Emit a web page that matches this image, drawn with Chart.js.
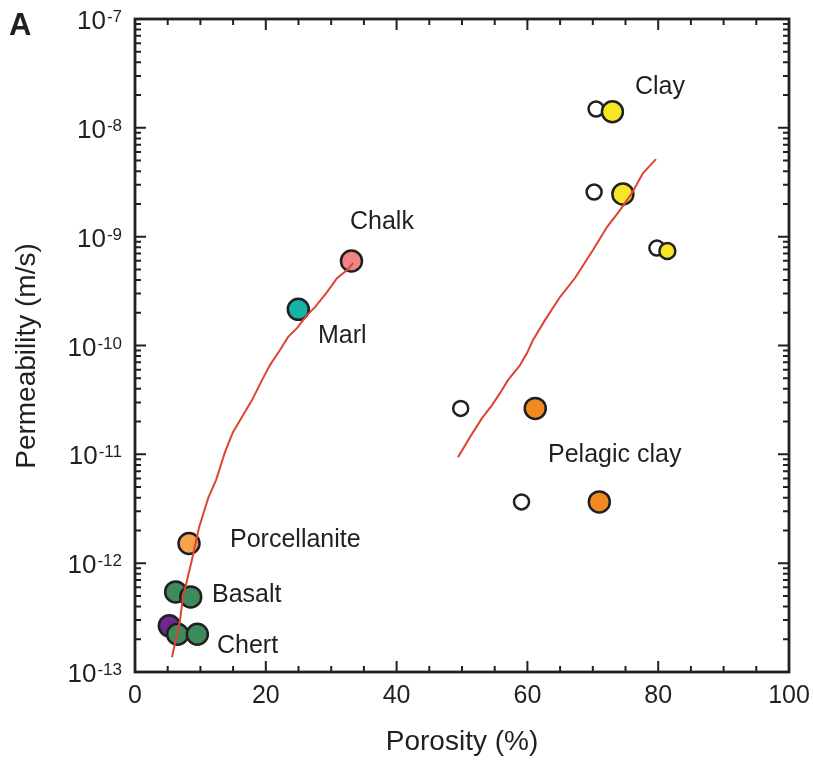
<!DOCTYPE html>
<html>
<head>
<meta charset="utf-8">
<script src="https://cdn.jsdelivr.net/npm/chart.js@4.4.1/dist/chart.umd.min.js"></script>
<style>
  html, body { margin: 0; padding: 0; background: #fff; }
  canvas { display: block; }
</style>
</head>
<body>
<canvas id="chart" width="813" height="761"></canvas>
<script>
// Datos (porosidad en %, permeabilidad como exponente log10 en m/s)
const xTicks = [0, 20, 40, 60, 80, 100];
const yTickExponents = [-7, -8, -9, -10, -11, -12, -13];

// Curvas del modelo (rojo)
const leftCurvePorosity = [5.66, 6.88, 7.34, 8.7, 9.8, 11.2, 12.39, 13.76, 14.98, 16.51, 17.89, 19.42, 20.64, 22.17, 23.39, 24.77, 26.3, 27.52, 29.36, 30.89, 32.42, 33.33];
const leftCurveLogK = [-12.864, -12.524, -12.31, -11.97, -11.67, -11.4, -11.237, -10.98, -10.796, -10.64, -10.502, -10.318, -10.18, -10.042, -9.923, -9.84, -9.721, -9.647, -9.509, -9.381, -9.307, -9.243];
const rightCurvePorosity = [49.39, 51.22, 53.06, 54.59, 55.81, 57.03, 58.87, 59.94, 60.86, 62.69, 64.98, 67.28, 70.03, 72.17, 74.16, 75.99, 77.68, 79.66];
const rightCurveLogK = [-11.026, -10.842, -10.667, -10.548, -10.438, -10.318, -10.18, -10.07, -9.95, -9.767, -9.555, -9.38, -9.123, -8.912, -8.756, -8.599, -8.415, -8.287];

// Muestras
const openPorosity = [70.5, 70.2, 79.8, 49.8, 59.1];
const openLogK = [-7.827, -8.59, -9.105, -10.578, -11.437];
const clayPorosity = [73.0, 74.6, 81.4];
const clayLogK = [-7.852, -8.608, -9.132];
const pelagicPorosity = [61.2, 71.0];
const pelagicLogK = [-10.578, -11.437];
const chalkPorosity = [33.1];
const chalkLogK = [-9.224];
const marlPorosity = [24.97];
const marlLogK = [-9.668];
const porcellanitePorosity = [8.26];
const porcellaniteLogK = [-11.819];
const greenPorosity = [6.22, 8.52, 6.52, 9.53]; // basalto y sílex
const greenLogK = [-12.264, -12.31, -12.653, -12.653];
const purplePorosity = [5.25];
const purpleLogK = [-12.576];

// Etiquetas de texto
const annotationText = ["Clay", "Chalk", "Marl", "Pelagic clay", "Porcellanite", "Basalt", "Chert"];
const annotationPorosity = [76.45, 32.87, 27.98, 63.15, 14.53, 11.77, 12.54];
const annotationLogK = [-7.689, -8.93, -9.978, -11.072, -11.853, -12.358, -12.827];

const INK = "#231f20";
const FONT = "'Liberation Sans', Arial, Helvetica, sans-serif";

function toPoints(xs, logs) {
  return xs.map((x, i) => ({ x: x, y: Math.pow(10, logs[i]) }));
}

function markerSet(xs, logs, color, radius) {
  return {
    data: toPoints(xs, logs),
    backgroundColor: color,
    borderColor: INK,
    borderWidth: 2.5,
    pointRadius: radius,
    pointHoverRadius: radius,
  };
}

function curveSet(xs, logs) {
  return {
    data: toPoints(xs, logs),
    showLine: true,
    borderColor: "#dc4530",
    borderWidth: 2,
    pointRadius: 0,
    fill: false,
  };
}

// Dibuja ejes, marcas, etiquetas y textos usando las escalas del gráfico
const framePlugin = {
  id: "frame",
  afterDraw(chart) {
    const { ctx, chartArea: a, scales } = chart;
    const sx = scales.x;
    const sy = scales.y;
    ctx.save();
    ctx.strokeStyle = INK;
    ctx.fillStyle = INK;

    // Marcas del eje x (abajo y arriba)
    ctx.lineWidth = 2;
    for (let v = 0; v <= 100; v += 5) {
      const px = sx.getPixelForValue(v);
      const len = v % 20 === 0 ? 11 : 6;
      ctx.beginPath();
      ctx.moveTo(px, a.bottom);
      ctx.lineTo(px, a.bottom - len);
      ctx.moveTo(px, a.top);
      ctx.lineTo(px, a.top + len);
      ctx.stroke();
    }

    // Marcas del eje y (logarítmicas)
    for (let e = -13; e < -7; e++) {
      for (let m = 1; m <= 9; m++) {
        const py = sy.getPixelForValue(m * Math.pow(10, e));
        const len = m === 1 ? 11 : 6;
        ctx.beginPath();
        ctx.moveTo(a.left, py);
        ctx.lineTo(a.left + len, py);
        ctx.moveTo(a.right, py);
        ctx.lineTo(a.right - len, py);
        ctx.stroke();
      }
    }

    // Marco
    ctx.lineWidth = 2.8;
    ctx.strokeRect(a.left, a.top, a.right - a.left, a.bottom - a.top);

    // Etiquetas del eje x
    ctx.font = "25px " + FONT;
    ctx.textAlign = "center";
    ctx.textBaseline = "alphabetic";
    xTicks.forEach((v) => {
      ctx.fillText(String(v), sx.getPixelForValue(v), a.bottom + 31);
    });

    // Etiquetas del eje y con superíndice
    yTickExponents.forEach((e) => {
      const py = sy.getPixelForValue(Math.pow(10, e));
      ctx.font = "17px " + FONT;
      const supW = ctx.measureText(String(e)).width;
      ctx.font = "26px " + FONT;
      const baseW = ctx.measureText("10").width;
      const right = a.left - 13;
      ctx.textAlign = "left";
      ctx.fillText("10", right - supW - baseW - 1, py + 10);
      ctx.font = "17px " + FONT;
      ctx.fillText(String(e), right - supW, py + 3);
    });

    // Títulos de ejes
    ctx.font = "28px " + FONT;
    ctx.textAlign = "center";
    ctx.fillText("Porosity (%)", (a.left + a.right) / 2, 750);
    ctx.save();
    ctx.translate(35, 356);
    ctx.rotate(-Math.PI / 2);
    ctx.fillText("Permeability (m/s)", 0, 0);
    ctx.restore();

    // Letra del panel
    ctx.font = "bold 31px " + FONT;
    ctx.textAlign = "left";
    ctx.fillText("A", 9, 35);

    // Textos de las muestras
    ctx.font = "25px " + FONT;
    annotationText.forEach((t, i) => {
      ctx.fillText(t, sx.getPixelForValue(annotationPorosity[i]), sy.getPixelForValue(Math.pow(10, annotationLogK[i])));
    });
    ctx.restore();
  },
};

new Chart(document.getElementById("chart").getContext("2d"), {
  type: "scatter",
  data: {
    datasets: [
      curveSet(leftCurvePorosity, leftCurveLogK),
      curveSet(rightCurvePorosity, rightCurveLogK),
      markerSet(clayPorosity, clayLogK, "#f6e624", [10.5, 10.5, 8]),
      markerSet(openPorosity, openLogK, "#ffffff", 7.5),
      markerSet(pelagicPorosity, pelagicLogK, "#f28a24", 10.5),
      markerSet(chalkPorosity, chalkLogK, "#f08484", 10.5),
      markerSet(marlPorosity, marlLogK, "#17b2a8", 10.5),
      markerSet(porcellanitePorosity, porcellaniteLogK, "#f7a24c", 10.5),
      markerSet(greenPorosity, greenLogK, "#3e8a5a", 10.5),
      markerSet(purplePorosity, purpleLogK, "#6a2b8c", 10.5),
    ],
  },
  options: {
    responsive: false,
    devicePixelRatio: 1,
    animation: false,
    layout: { padding: { left: 135, top: 19, right: 24, bottom: 89 } },
    plugins: { legend: { display: false }, tooltip: { enabled: false } },
    scales: {
      x: { type: "linear", min: 0, max: 100, display: false },
      y: { type: "logarithmic", min: 1e-13, max: 1e-7, display: false },
    },
  },
  plugins: [framePlugin],
});
</script>
</body>
</html>
